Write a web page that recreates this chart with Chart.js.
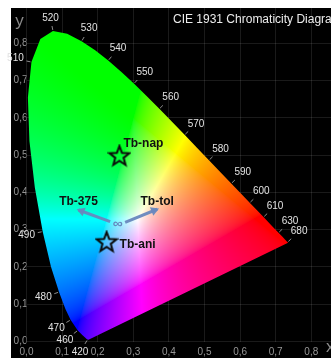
<!DOCTYPE html>
<html><head><meta charset="utf-8">
<script src="https://cdn.jsdelivr.net/npm/chart.js@4.4.1/dist/chart.umd.min.js"></script>
<style>html,body{margin:0;padding:0;background:#fff;overflow:hidden}canvas{display:block}</style>
</head><body>
<canvas id="c" width="331" height="358"></canvas>
<script>
// CIE 1931 2° spectral locus
const wavelengths = [380,390,400,410,420,430,440,450,460,470,475,480,485,490,495,500,505,510,515,520,525,530,535,540,545,550,555,560,565,570,575,580,585,590,595,600,605,610,620,630,640,650,660,680,700];
const locusX = [0.1741,0.1738,0.1733,0.1726,0.1714,0.1689,0.1644,0.1566,0.1440,0.1241,0.1096,0.0913,0.0687,0.0454,0.0235,0.0082,0.0039,0.0139,0.0389,0.0743,0.1142,0.1547,0.1929,0.2296,0.2658,0.3016,0.3373,0.3731,0.4087,0.4441,0.4788,0.5125,0.5448,0.5752,0.6029,0.6270,0.6482,0.6658,0.6915,0.7079,0.7190,0.7260,0.7300,0.7334,0.7347];
const locusY = [0.0050,0.0049,0.0048,0.0048,0.0051,0.0069,0.0109,0.0177,0.0297,0.0578,0.0868,0.1327,0.2007,0.2950,0.4127,0.5384,0.6548,0.7502,0.8120,0.8338,0.8262,0.8059,0.7816,0.7543,0.7243,0.6923,0.6589,0.6245,0.5896,0.5547,0.5202,0.4866,0.4544,0.4242,0.3965,0.3725,0.3514,0.3340,0.3083,0.2920,0.2809,0.2740,0.2700,0.2666,0.2653];
const labelWavelengths = [420,460,470,480,490,510,520,530,540,550,560,570,580,590,600,610,630,680];

const xTicks = [0,0.1,0.2,0.3,0.4,0.5,0.6,0.7,0.8];
const xTickLabels = ['0,0','0,1','0,2','0,3','0,4','0,5','0,6','0,7','0,8'];
const yTicks = [0,0.1,0.2,0.3,0.4,0.5,0.6,0.7,0.8];
const yTickLabels = ['0,0','0,1','0,2','0,3','0,4','0,5','0,6','0,7','0,8'];

const markerNames = ['Tb-nap','Tb-ani'];
const markerX = [0.261, 0.225];
const markerY = [0.499, 0.268];

const arrowNames = ['Tb-375','Tb-tol'];
const arrowFromX = [0.235, 0.277];
const arrowFromY = [0.322, 0.320];
const arrowToX = [0.146, 0.367];
const arrowToY = [0.353, 0.355];

const originX = [0.256];
const originY = [0.315];

const titleText = 'CIE 1931 Chromaticity Diagram';
const FONT = "'Liberation Sans', Arial, sans-serif";

// star point style
function makeStar(size){
  const c = document.createElement('canvas'); c.width = size; c.height = size;
  const g = c.getContext('2d');
  const cx = size/2, cy = size/2 + 0.8, R = size/2 - 1.6, r = R*0.42;
  g.beginPath();
  for (let i=0;i<10;i++){
    const a = -Math.PI/2 + i*Math.PI/5;
    const rad = i%2 ? r : R;
    const px = cx + rad*Math.cos(a), py = cy + rad*Math.sin(a);
    i ? g.lineTo(px,py) : g.moveTo(px,py);
  }
  g.closePath();
  g.lineWidth = 2; g.lineJoin = 'miter'; g.strokeStyle = '#0a0a0a'; g.stroke();
  return c;
}
const starImg = makeStar(24);

function xyToRGB(x, y){
  const X = x/y, Yv = 1, Z = (1-x-y)/y;
  let r = 3.2406*X - 1.5372*Yv - 0.4986*Z;
  let g = -0.9689*X + 1.8758*Yv + 0.0415*Z;
  let b = 0.0557*X - 0.2040*Yv + 1.0570*Z;
  r = Math.max(r,0); g = Math.max(g,0); b = Math.max(b,0);
  const m = Math.max(r,g,b) || 1;
  r = Math.pow(r/m, 1/1.8); g = Math.pow(g/m, 1/1.8); b = Math.pow(b/m, 1/1.8);
  // HSV hue tweak: pull teal shades toward green
  const mx = Math.max(r,g,b), mn = Math.min(r,g,b), d = mx - mn;
  if (d < 1e-6) return [mx*255, mx*255, mx*255];
  let h;
  if (mx === r) h = 60*(((g-b)/d) % 6);
  else if (mx === g) h = 60*((b-r)/d + 2);
  else h = 60*((r-g)/d + 4);
  if (h < 0) h += 360;
  if (h > 120 && h < 180) h = 120 + (h-120)*(h-120)/60;
  const s = d/mx, v = mx;
  const c = v*s, hp = h/60, xx = c*(1 - Math.abs(hp % 2 - 1)), mm = v - c;
  let rr=0, gg=0, bb=0;
  if (hp < 1) {rr=c; gg=xx;} else if (hp < 2) {rr=xx; gg=c;} else if (hp < 3) {gg=c; bb=xx;}
  else if (hp < 4) {gg=xx; bb=c;} else if (hp < 5) {rr=xx; bb=c;} else {rr=c; bb=xx;}
  return [(rr+mm)*255, (gg+mm)*255, (bb+mm)*255];
}

const bgPlugin = {
  id: 'bg',
  beforeDraw(chart){
    const {ctx} = chart;
    ctx.save();
    ctx.fillStyle = '#000';
    ctx.fillRect(11, 8, chart.width - 11, chart.height - 8);
    ctx.restore();
  }
};

const gamutPlugin = {
  id: 'gamut',
  beforeDatasetsDraw(chart){
    const {ctx, scales:{x:xs, y:ys}} = chart;
    const pts = chart.getDatasetMeta(0).data;
    let x0=Infinity,x1=-Infinity,y0=Infinity,y1=-Infinity;
    pts.forEach(p=>{x0=Math.min(x0,p.x);x1=Math.max(x1,p.x);y0=Math.min(y0,p.y);y1=Math.max(y1,p.y);});
    x0=Math.max(0,Math.floor(x0)-1); y0=Math.max(0,Math.floor(y0)-1);
    x1=Math.min(chart.width,Math.ceil(x1)+1); y1=Math.min(chart.height,Math.ceil(y1)+1);
    const off = document.createElement('canvas'); off.width = chart.width; off.height = chart.height;
    const o = off.getContext('2d');
    const img = o.createImageData(chart.width, chart.height);
    for (let py=y0; py<y1; py++){
      const yv = Math.max(ys.getValueForPixel(py+0.5), 0.002);
      for (let px=x0; px<x1; px++){
        const xv = Math.max(xs.getValueForPixel(px+0.5), 0.0005);
        const c = xyToRGB(xv, yv);
        const k = (py*chart.width+px)*4;
        img.data[k]=c[0]; img.data[k+1]=c[1]; img.data[k+2]=c[2]; img.data[k+3]=255;
      }
    }
    o.putImageData(img,0,0);
    ctx.save();
    ctx.beginPath();
    pts.forEach((p,i)=> i ? ctx.lineTo(p.x,p.y) : ctx.moveTo(p.x,p.y));
    ctx.closePath();
    ctx.clip();
    ctx.drawImage(off,0,0);
    ctx.restore();
  }
};

const annotPlugin = {
  id: 'annot',
  afterDatasetsDraw(chart){
    const {ctx, chartArea:a} = chart;
    const pts = chart.getDatasetMeta(0).data;
    ctx.save();
    // wavelength ticks and labels
    ctx.font = '10px ' + FONT;
    ctx.textAlign = 'center'; ctx.textBaseline = 'middle';
    labelWavelengths.forEach(w=>{
      const i = wavelengths.indexOf(w);
      const p = pts[i], pr = pts[i-1], nx = pts[i+1];
      let tx = nx.x - pr.x, ty = nx.y - pr.y;
      const L = Math.hypot(tx,ty); tx/=L; ty/=L;
      const n = {x: ty, y: -tx};
      ctx.strokeStyle = 'rgba(200,200,200,0.7)'; ctx.lineWidth = 1;
      ctx.beginPath(); ctx.moveTo(p.x+n.x*1, p.y+n.y*1); ctx.lineTo(p.x+n.x*5, p.y+n.y*5); ctx.stroke();
      const txt = String(w);
      const tw = ctx.measureText(txt).width, th = 7;
      const d = 7.5 + Math.abs(n.x)*tw/2 + Math.abs(n.y)*th/2;
      ctx.fillStyle = '#e2e2e2';
      ctx.fillText(txt, p.x + n.x*d, p.y + n.y*d);
    });
    // arrowheads + arrow labels
    for (let k=0;k<arrowNames.length;k++){
      const m = chart.getDatasetMeta(1+k).data;
      const t = m[1], f = m[0];
      let dx = t.x-f.x, dy = t.y-f.y; const L = Math.hypot(dx,dy); dx/=L; dy/=L;
      const tip = {x:t.x+dx*2, y:t.y+dy*2};
      ctx.fillStyle = 'rgba(104,136,190,0.95)';
      ctx.beginPath();
      ctx.moveTo(tip.x, tip.y);
      ctx.lineTo(tip.x - dx*8 - dy*4.5, tip.y - dy*8 + dx*4.5);
      ctx.lineTo(tip.x - dx*8 + dy*4.5, tip.y - dy*8 - dx*4.5);
      ctx.closePath(); ctx.fill();
      ctx.font = 'bold 12px ' + FONT;
      ctx.fillStyle = '#111';
      ctx.textAlign = 'center'; ctx.textBaseline = 'middle';
      ctx.fillText(arrowNames[k], t.x, t.y - 8);
    }
    // origin symbol
    const om = chart.getDatasetMeta(3).data[0];
    ctx.font = 'bold 14px ' + FONT;
    ctx.fillStyle = 'rgba(100,130,185,0.95)';
    ctx.textAlign = 'center'; ctx.textBaseline = 'middle';
    ctx.fillText('\u221E', om.x, om.y);
    // marker labels
    const mm = chart.getDatasetMeta(4).data;
    ctx.font = 'bold 12px ' + FONT;
    ctx.fillStyle = '#111';
    ctx.textAlign = 'left';
    ctx.fillText(markerNames[0], mm[0].x + 4, mm[0].y - 11.5);
    ctx.fillText(markerNames[1], mm[1].x + 13, mm[1].y + 3);
    // title
    ctx.font = '12px ' + FONT;
    ctx.fillStyle = '#ececec';
    ctx.textAlign = 'left'; ctx.textBaseline = 'middle';
    ctx.fillText(titleText, 173, 19.5);
    // axis titles
    ctx.font = '17px ' + FONT;
    ctx.fillStyle = '#8a8a8a';
    ctx.textAlign = 'center';
    ctx.fillText('y', a.left - 7, 21);
    ctx.textAlign = 'left';
    ctx.fillText('x', a.right - 5, 347);
    ctx.restore();
  }
};

const tickFont = {family: FONT, size: 10};
const gridColor = 'rgba(255,255,255,0.10)';

new Chart(document.getElementById('c'), {
  type: 'scatter',
  data: {
    datasets: [
      { label: 'locus', data: wavelengths.map((w,i)=>({x:locusX[i], y:locusY[i]})), showLine: false, pointRadius: 0, borderWidth: 0 },
      { label: arrowNames[0], data: [{x:arrowFromX[0], y:arrowFromY[0]},{x:arrowToX[0], y:arrowToY[0]}], showLine: true, borderColor: 'rgba(104,136,190,0.95)', borderWidth: 3, pointRadius: 0 },
      { label: arrowNames[1], data: [{x:arrowFromX[1], y:arrowFromY[1]},{x:arrowToX[1], y:arrowToY[1]}], showLine: true, borderColor: 'rgba(104,136,190,0.95)', borderWidth: 3, pointRadius: 0 },
      { label: 'origin', data: originX.map((v,i)=>({x:v, y:originY[i]})), pointRadius: 0 },
      { label: 'markers', data: markerX.map((v,i)=>({x:v, y:markerY[i]})), pointStyle: starImg, pointRadius: 10 }
    ]
  },
  options: {
    responsive: false, animation: false, devicePixelRatio: 1,
    layout: {autoPadding: false, padding: {left: 11, top: 8, right: 0, bottom: 0}},
    plugins: {legend: {display: false}, tooltip: {enabled: false}},
    scales: {
      x: {
        type: 'linear', min: 0, max: 0.8553,
        afterFit: s => { s.height = 16.5; s.paddingLeft = 0; s.paddingRight = 0; },
        afterBuildTicks: s => { s.ticks = xTicks.map(v=>({value:v})); },
        grid: {color: gridColor, drawTicks: false, lineWidth: 1},
        border: {display: false},
        ticks: {color: '#969696', font: tickFont, padding: 5, maxRotation: 0, autoSkip: false, callback: (v,i)=>xTickLabels[i]}
      },
      y: {
        type: 'linear', min: 0, max: 0.8953,
        afterFit: s => { s.width = 15.5; s.paddingTop = 0; s.paddingBottom = 0; },
        afterBuildTicks: s => { s.ticks = yTicks.map(v=>({value:v})); },
        grid: {color: gridColor, drawTicks: false, lineWidth: 1},
        border: {display: false},
        ticks: {color: '#969696', font: tickFont, padding: -1, autoSkip: false, callback: (v,i)=>yTickLabels[i]}
      }
    }
  },
  plugins: [bgPlugin, gamutPlugin, annotPlugin]
});
</script>
</body></html>
